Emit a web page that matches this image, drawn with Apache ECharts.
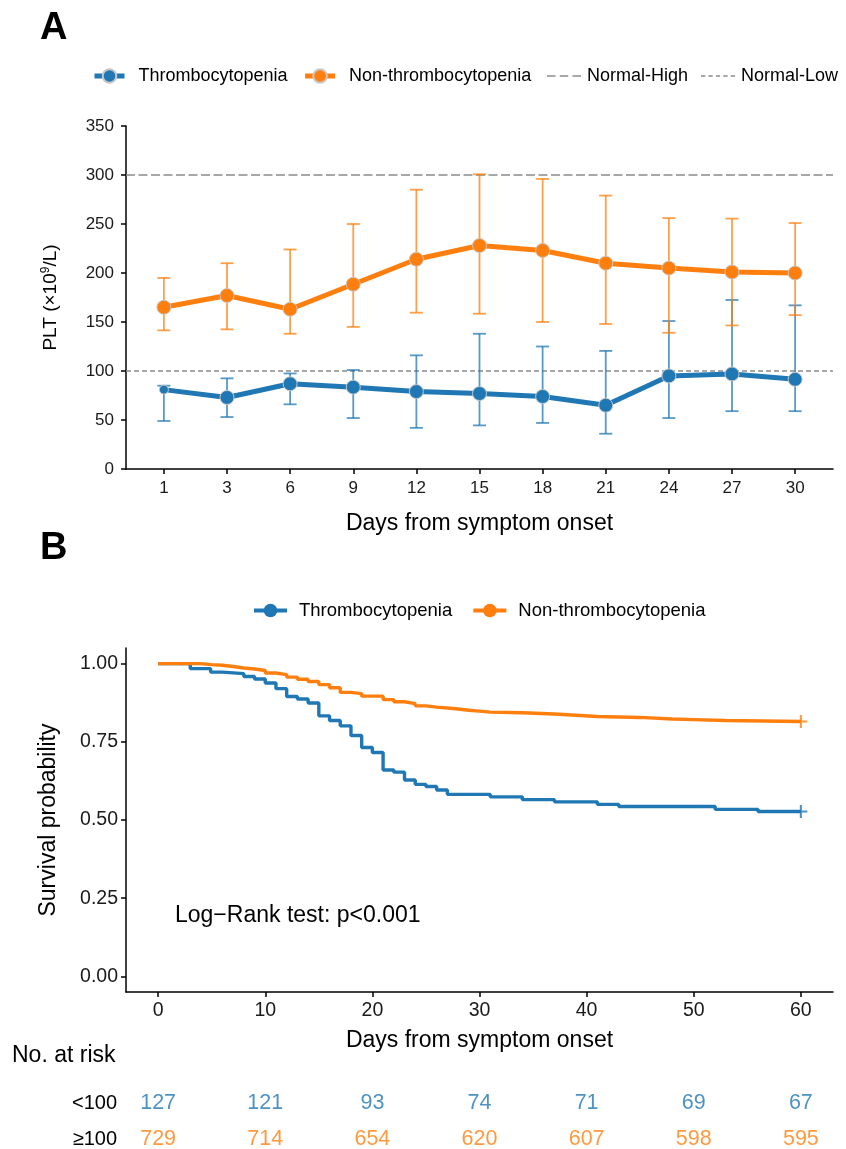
<!DOCTYPE html>
<html><head><meta charset="utf-8">
<script src="https://cdn.jsdelivr.net/npm/echarts@6/dist/echarts.min.js"></script>
<style>html,body{margin:0;padding:0;background:#fff}#c{width:846px;height:1149px}</style>
</head><body><div id="c"></div>
<script>
// ---------- Panel A data ----------
const days = ['1','3','6','9','12','15','18','21','24','27','30'];
const thrMean = [81,73,87,83.5,79,77,74,65,95,97,91.5];
const thrLow  = [49,53,66,52,42,44.5,47,36,52,59,59];
const thrHigh = [85,92.5,97.5,101,116,138,125,120.5,151,172.5,167];
const nonMean = [165,177,163,188.5,214,228,223,210,205,201,200];
const nonLow  = [141.5,142.5,138,145,159.5,158.5,150,148,139,146.5,157];
const nonHigh = [195,210,224,250,285,300.7,296,279,256,255.5,251];
const normalHigh = 300;
const normalLow = 100;

// ---------- Panel B data ----------
const kmThrTime = [0,3,4.9,6,8,9,10,11,12,13,14,15,16,17,18,19,20,21,22,23,24,25,26,27,31,34,37,41,43,52,56,60];
const kmThrSurv = [1,0.984,0.973,0.968,0.959,0.951,0.938,0.920,0.895,0.887,0.874,0.833,0.818,0.801,0.770,0.732,0.716,0.660,0.653,0.628,0.614,0.607,0.596,0.582,0.574,0.565,0.558,0.550,0.543,0.534,0.527,0.527];
const kmNonTime = [0,3.9,5,6,7,8,9,10,11,12,13,14,15,16,17,18,19,21,22,23,24,25,26,27,28,29,30,31,34,37,39,41,45,48,50,53,60];
const kmNonSurv = [1,0.997,0.995,0.991,0.986,0.983,0.978,0.970,0.965,0.957,0.950,0.943,0.933,0.923,0.908,0.904,0.896,0.885,0.878,0.872,0.865,0.861,0.858,0.855,0.851,0.848,0.845,0.843,0.839,0.835,0.831,0.828,0.823,0.821,0.818,0.815,0.815];
const xTicksB = [0,10,20,30,40,50,60];
const yTicksB = [0,0.25,0.5,0.75,1];
const riskTimes = [0,10,20,30,40,50,60];
const riskThr = [127,121,93,74,71,69,67];
const riskNon = [729,714,654,620,607,598,595];
const riskRows = ['<100','≥100'];

// ---------- styles ----------
const FONT = 'Liberation Sans, Arial, sans-serif';
const BLUE = '#1f77b4', ORANGE = '#ff7f0e';
const BLUE_E = 'rgba(31,119,180,0.75)', ORANGE_E = 'rgba(255,127,14,0.75)';
const AX = {show:true, onZero:false, lineStyle:{color:'#000',width:1.5}};
const TK = {show:true,length:5,lineStyle:{color:'#000',width:1.5}};

function errRender(color){
  return function(params, api){
    const x = api.value(0), lo = api.value(1), hi = api.value(2);
    const a = api.coord([x, lo]), b = api.coord([x, hi]);
    const w = 6.5;
    const st = {stroke: color, lineWidth: 1.8};
    return {type:'group', children:[
      {type:'line', shape:{x1:a[0],y1:a[1],x2:b[0],y2:b[1]}, style:st},
      {type:'line', shape:{x1:a[0]-w,y1:a[1],x2:a[0]+w,y2:a[1]}, style:st},
      {type:'line', shape:{x1:b[0]-w,y1:b[1],x2:b[0]+w,y2:b[1]}, style:st}
    ]};
  };
}
const idx = days.map((d,i)=>i);
const markerStyle = c => ({color:c, borderColor:'#c8c8c8', borderWidth:1});

const option = {
  animation:false,
  textStyle:{fontFamily:FONT},
  graphic:[
    {type:'text', left:40, top:10, style:{text:'A', font:'bold 38px '+FONT, fill:'#000'}},
    {type:'text', left:40, top:530, style:{text:'B', font:'bold 38px '+FONT, fill:'#000'}},
    {type:'text', left:175, top:904, style:{text:'Log\u2212Rank test: p<0.001', font:'23px '+FONT, fill:'#000'}},
    {type:'text', left:12, top:1044, style:{text:'No. at risk', font:'23px '+FONT, fill:'#000'}}
  ],
  legend:[
    {data:['Thrombocytopenia','Non-thrombocytopenia'], left:92, top:67, padding:0, itemWidth:30, itemHeight:17, itemGap:15,
     lineStyle:{width:5}, textStyle:{fontSize:18, color:'#000', padding:[0,0,0,9]}},
    {data:[{name:'Normal-High', icon:'path://M0,0h8v1.5h-8z M12,0h8v1.5h-8z M24,0h8v1.5h-8z'},
           {name:'Normal-Low', icon:'path://M0,0h4v1.5h-4z M7,0h4v1.5h-4z M14,0h4v1.5h-4z M21,0h4v1.5h-4z M28,0h4v1.5h-4z'}],
     left:547, top:67, padding:0, width:320, orient:'horizontal', itemWidth:34, itemHeight:17, itemGap:13,
     textStyle:{fontSize:18, color:'#000', padding:[0,0,0,1]}},
    {data:['Thrombocytopenia ','Non-thrombocytopenia '], left:252, top:601, padding:0, itemWidth:33, itemHeight:17, itemGap:14,
     lineStyle:{width:4}, textStyle:{fontSize:18.5, color:'#000', padding:[0,0,0,7]}}
  ],
  grid:[
    {left:126, right:13, top:126, height:343},
    {left:126, right:13, top:648, height:344},
    {left:126, right:13, top:1103, height:36}
  ],
  xAxis:[
    {gridIndex:0, type:'value', min:-0.6, max:10.6, axisLine:AX, axisTick:Object.assign({customValues:idx},TK), splitLine:{show:false},
     axisLabel:{customValues:idx, formatter:v=>days[Math.round(v)], fontSize:17, color:'#1a1a1a', margin:11},
     name:'Days from symptom onset', nameLocation:'middle', nameGap:43, nameTextStyle:{fontSize:23, color:'#000'}},
    {gridIndex:1, type:'value', min:-3, max:63, axisLine:AX, axisTick:Object.assign({customValues:xTicksB},TK), splitLine:{show:false},
     axisLabel:{customValues:xTicksB, fontSize:19.5, color:'#1a1a1a', margin:9},
     name:'Days from symptom onset', nameLocation:'middle', nameGap:37, nameTextStyle:{fontSize:23, color:'#000'}},
    {gridIndex:2, type:'value', min:-3, max:63, show:false}
  ],
  yAxis:[
    {gridIndex:0, type:'value', min:0, max:350, interval:50, axisLine:AX, axisTick:TK, splitLine:{show:false},
     axisLabel:{fontSize:17, color:'#1a1a1a', margin:12},
     name:'PLT (×10{s|9}/L)', nameLocation:'middle', nameGap:64,
     nameTextStyle:{fontSize:19, color:'#000', lineHeight:22, rich:{s:{fontSize:12, verticalAlign:'top', lineHeight:22, color:'#000'}}}},
    {gridIndex:1, type:'value', min:-0.05, max:1.05, axisLine:AX, axisTick:Object.assign({customValues:yTicksB},TK), splitLine:{show:false},
     axisLabel:{customValues:yTicksB, formatter:v=>v.toFixed(2), fontSize:19.5, color:'#1a1a1a', margin:8},
     name:'Survival probability', nameLocation:'middle', nameGap:66, nameTextStyle:{fontSize:23, color:'#000'}},
    {gridIndex:2, type:'value', min:0, max:1, axisLine:{show:false}, axisTick:{show:false}, splitLine:{show:false},
     axisLabel:{customValues:[0,1], formatter:v=>(v>0.5?riskRows[0]:riskRows[1]), fontSize:20, color:'#000', margin:9}}
  ],
  series:[
    {name:'Normal-High', type:'line', xAxisIndex:0, yAxisIndex:0, data:[[-0.6,normalHigh],[10.6,normalHigh]], symbol:'none', silent:true,
     itemStyle:{color:'#8a8a8a'}, lineStyle:{color:'#8a8a8a', width:1.5, type:[9,3.5]}, z:1},
    {name:'Normal-Low', type:'line', xAxisIndex:0, yAxisIndex:0, data:[[-0.6,normalLow],[10.6,normalLow]], symbol:'none', silent:true,
     itemStyle:{color:'#8a8a8a'}, lineStyle:{color:'#8a8a8a', width:1.5, type:[5,3]}, z:1},
    {name:'errThr', type:'custom', xAxisIndex:0, yAxisIndex:0, renderItem:errRender(BLUE_E), data:idx.map(i=>[i,thrLow[i],thrHigh[i]]), z:2, silent:true},
    {name:'errNon', type:'custom', xAxisIndex:0, yAxisIndex:0, renderItem:errRender(ORANGE_E), data:idx.map(i=>[i,nonLow[i],nonHigh[i]]), z:2, silent:true},
    {name:'Thrombocytopenia', type:'line', xAxisIndex:0, yAxisIndex:0,
     data:idx.map(i=> i===0 ? {value:[i,thrMean[i]], symbolSize:9} : [i,thrMean[i]]),
     symbol:'circle', symbolSize:14, lineStyle:{color:BLUE,width:5}, itemStyle:markerStyle(BLUE), z:3},
    {name:'Non-thrombocytopenia', type:'line', xAxisIndex:0, yAxisIndex:0, data:idx.map(i=>[i,nonMean[i]]),
     symbol:'circle', symbolSize:14, lineStyle:{color:ORANGE,width:5}, itemStyle:markerStyle(ORANGE), z:3},

    {name:'Thrombocytopenia ', type:'line', xAxisIndex:1, yAxisIndex:1, step:'end', data:kmThrTime.map((t,i)=>[t,kmThrSurv[i]]),
     symbol:'circle', showSymbol:false, symbolSize:10, lineStyle:{color:BLUE,width:3.4}, itemStyle:{color:BLUE}, z:3},
    {name:'Non-thrombocytopenia ', type:'line', xAxisIndex:1, yAxisIndex:1, step:'end', data:kmNonTime.map((t,i)=>[t,kmNonSurv[i]]),
     symbol:'circle', showSymbol:false, symbolSize:10, lineStyle:{color:ORANGE,width:3.4}, itemStyle:{color:ORANGE}, z:4},
    {name:'censor', type:'scatter', xAxisIndex:1, yAxisIndex:1, silent:true, z:5,
     symbol:'path://M4.2,0h1.6v4.2h4.2v1.6h-4.2v4.2h-1.6v-4.2h-4.2v-1.6h4.2z', symbolSize:13,
     data:[{value:[kmThrTime[kmThrTime.length-1], kmThrSurv[kmThrSurv.length-1]], itemStyle:{color:BLUE}},
           {value:[kmNonTime[kmNonTime.length-1], kmNonSurv[kmNonSurv.length-1]], itemStyle:{color:ORANGE}}]},

    {name:'riskThr', type:'scatter', xAxisIndex:2, yAxisIndex:2, silent:true, symbolSize:0.1, itemStyle:{color:'rgba(0,0,0,0)'},
     label:{show:true, position:'inside', formatter:p=>p.value[2], fontSize:21.5, color:BLUE},
     data:riskTimes.map((t,i)=>[t,1,riskThr[i]])},
    {name:'riskNon', type:'scatter', xAxisIndex:2, yAxisIndex:2, silent:true, symbolSize:0.1, itemStyle:{color:'rgba(0,0,0,0)'},
     label:{show:true, position:'inside', formatter:p=>p.value[2], fontSize:21.5, color:ORANGE},
     data:riskTimes.map((t,i)=>[t,0,riskNon[i]])}
  ]
};
const chart = echarts.init(document.getElementById('c'), null, {renderer:'canvas'});
chart.setOption(option);
</script>
</body></html>
